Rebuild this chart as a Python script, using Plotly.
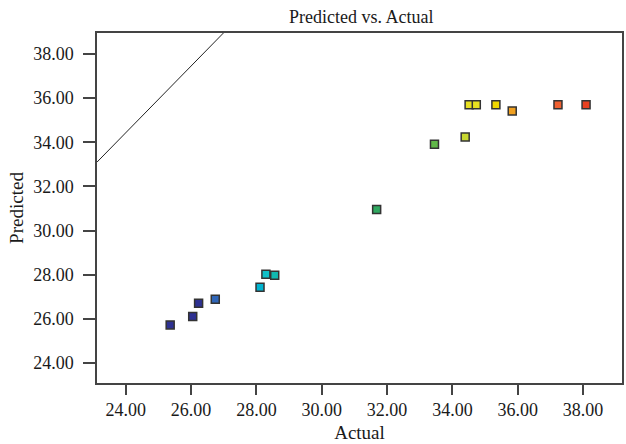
import plotly.graph_objects as go

actual = [25.36, 26.05, 26.23, 26.74, 28.11, 28.29, 28.56, 31.68, 33.45, 34.39, 34.51, 34.73, 35.33, 35.83, 37.23, 38.09]
predicted = [25.72, 26.10, 26.70, 26.89, 27.43, 28.02, 27.97, 30.95, 33.91, 34.24, 35.70, 35.70, 35.70, 35.42, 35.70, 35.70]
colors = ["#2e3192", "#2e3192", "#2e3192", "#3066b8", "#00b4d0", "#10c0c8", "#10b8b0", "#30a860",
          "#60b848", "#c8d830", "#e8e020", "#e8e020", "#f0d800", "#f0a020", "#f06030", "#e84020"]

line_x = [23.12, 26.99]
line_y = [33.10, 38.95]

tick_vals = [24, 26, 28, 30, 32, 34, 36, 38]
tick_text = ["24.00", "26.00", "28.00", "30.00", "32.00", "34.00", "36.00", "38.00"]

fig = go.Figure()
fig.add_trace(go.Scatter(x=line_x, y=line_y, mode="lines",
                         line=dict(color="#222222", width=1), hoverinfo="skip"))
fig.add_trace(go.Scatter(x=actual, y=predicted, mode="markers",
                         marker=dict(symbol="square", size=8, color=colors,
                                     line=dict(color="#333333", width=1.5))))

font = "Liberation Serif, Times New Roman, serif"
axis_common = dict(showgrid=False, zeroline=False, showline=True, linecolor="#444444",
                   linewidth=1.5, mirror=True, ticks="outside", tickwidth=1.5,
                   tickcolor="#444444", tickvals=tick_vals, ticktext=tick_text,
                   tickfont=dict(family=font, size=18, color="#1a1a1a"))

fig.update_layout(
    width=626, height=444,
    margin=dict(l=97, r=2, t=33, b=61),
    paper_bgcolor="white", plot_bgcolor="white",
    showlegend=False,
    title=dict(text="Predicted vs. Actual", x=0.577, xanchor="center", y=0.962, yanchor="middle",
               font=dict(family=font, size=18, color="#1a1a1a")),
    xaxis=dict(range=[23.12, 39.19], ticklen=10,
               title=dict(text="Actual", font=dict(family=font, size=19, color="#1a1a1a"), standoff=6),
               **axis_common),
    yaxis=dict(range=[23.09, 38.95], ticklen=12, ticklabelstandoff=6,
               title=dict(text="Predicted", font=dict(family=font, size=19, color="#1a1a1a"), standoff=5),
               **axis_common),
)

fig.write_html("out.html")
